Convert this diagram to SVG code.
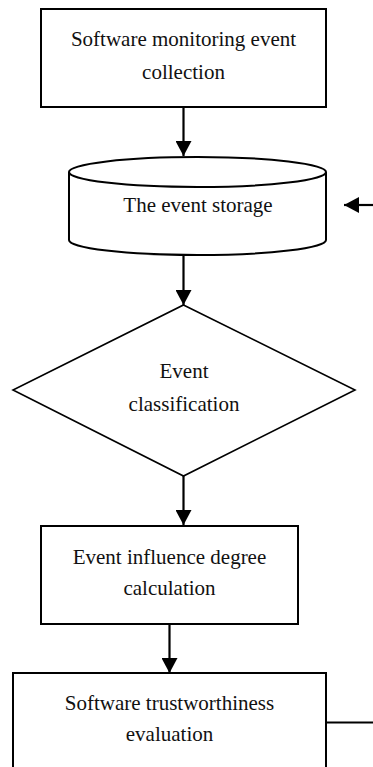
<svg xmlns="http://www.w3.org/2000/svg" width="373" height="767" viewBox="0 0 373 767">
<style>
.n{fill:#fff;stroke:#000;stroke-width:2}
.d{fill:#fff;stroke:#000;stroke-width:1.6}
.t{font-family:"Liberation Serif","Times New Roman",serif;font-size:21px;fill:#111;text-anchor:middle}
.c{stroke:#000;stroke-width:2.2;fill:none}
</style>
<defs>
<marker id="ah" markerWidth="16" markerHeight="16" refX="15" refY="8" orient="auto" markerUnits="userSpaceOnUse">
<path d="M0,0 L15,8 L0,16 Z" fill="#000"/>
</marker>
</defs>
<rect width="373" height="767" fill="#fff"/>
<g id="n1">
<rect class="n" x="41" y="9" width="285" height="98"/>
<text class="t" x="183.5" y="46">Software monitoring event</text>
<text class="t" x="183.5" y="79">collection</text>
</g>
<g id="n2">
<path class="n" d="M69,172 A128.5,15 0 0 1 326,172 L326,240 A128.5,15 0 0 1 69,240 Z"/>
<path class="n" d="M69,172 A128.5,15 0 0 0 326,172" fill="none"/>
<text class="t" x="198" y="211.5">The event storage</text>
</g>
<g id="n3">
<polygon class="d" points="183.5,305 355,390 183.5,476 13,390"/>
<text class="t" x="184" y="378">Event</text>
<text class="t" x="184" y="411">classification</text>
</g>
<g id="n4">
<rect class="n" x="41" y="526" width="257" height="98"/>
<text class="t" x="169.5" y="563.5">Event influence degree</text>
<text class="t" x="169.5" y="595">calculation</text>
</g>
<g id="n5">
<rect class="n" x="13" y="673" width="313" height="110"/>
<text class="t" x="169.5" y="710">Software trustworthiness</text>
<text class="t" x="169.5" y="741">evaluation</text>
</g>
<g id="connectors">
<line class="c" x1="183.5" y1="107" x2="183.5" y2="156" marker-end="url(#ah)"/>
<line class="c" x1="183.5" y1="255" x2="183.5" y2="305" marker-end="url(#ah)"/>
<line class="c" x1="183.5" y1="476" x2="183.5" y2="525" marker-end="url(#ah)"/>
<line class="c" x1="169.5" y1="624" x2="169.5" y2="673" marker-end="url(#ah)"/>
<line class="c" x1="326" y1="722.5" x2="375" y2="722.5"/>
<line class="c" x1="375" y1="205" x2="344" y2="205" marker-end="url(#ah)"/>
</g>
</svg>
